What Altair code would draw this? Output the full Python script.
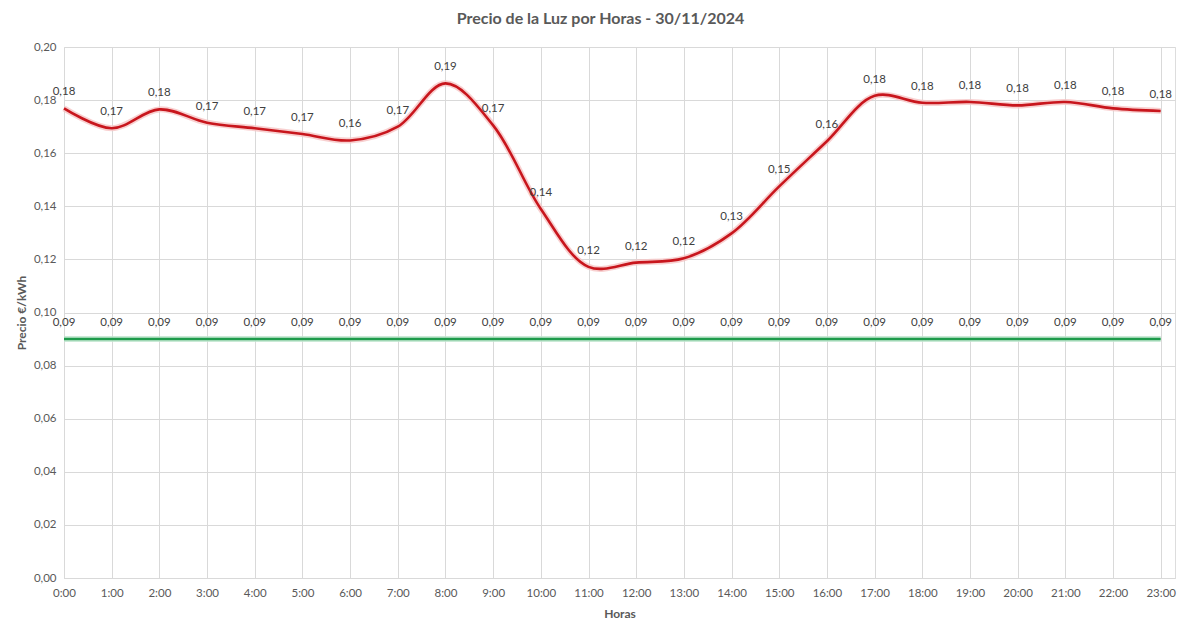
import altair as alt
import pandas as pd

horas = list(range(24))
precio = [0.1769, 0.1694, 0.1765, 0.1715, 0.1694, 0.1672, 0.1648, 0.1700,
          0.1863, 0.1705, 0.1390, 0.1172, 0.1188, 0.1204, 0.1298, 0.1475,
          0.1645, 0.1816, 0.1790, 0.1793, 0.1780, 0.1793, 0.1769, 0.1759]
referencia = [0.09, 0.09, 0.09, 0.09, 0.09, 0.09, 0.09, 0.09,
              0.09, 0.09, 0.09, 0.09, 0.09, 0.09, 0.09, 0.09,
              0.09, 0.09, 0.09, 0.09, 0.09, 0.09, 0.09, 0.09]
series = ["Precio", "Referencia"]
colores = ["#C8161D", "#1E9B4B"]
colores_halo = ["#F6C4C4", "#BDE5CC"]
ticks_y = [0.0, 0.02, 0.04, 0.06, 0.08, 0.10, 0.12, 0.14, 0.16, 0.18, 0.20]

df = pd.DataFrame(
    {"hora": horas * 2,
     "valor": precio + referencia,
     "serie": [series[0]] * 24 + [series[1]] * 24}
)

FONT = "Lato"
GREY = "#595959"

x = alt.X(
    "hora:Q",
    scale=alt.Scale(domain=[0, 23.3], nice=False, zero=False),
    axis=alt.Axis(
        values=horas,
        labelExpr="datum.value + ':00'",
        labelFlush=False,
        labelOverlap=False,
        title="Horas",
        titleFontWeight="bold",
        titleFontSize=12,
        titleColor=GREY,
        titlePadding=10,
        labelPadding=9,
        domain=True,
        domainColor="#D9D9D9",
        ticks=False,
        gridColor="#D9D9D9",
        labelColor=GREY,
        labelFontSize=11.5,
        labelFont=FONT,
        titleFont=FONT,
    ),
)
y = alt.Y(
    "valor:Q",
    scale=alt.Scale(domain=[0, 0.2], nice=False),
    axis=alt.Axis(
        values=ticks_y,
        labelExpr="replace(format(datum.value, '.2f'), '.', ',')",
        title="Precio €/kWh",
        titleFontWeight="bold",
        titleFontSize=12,
        titleColor=GREY,
        titlePadding=5,
        labelPadding=8,
        domain=False,
        ticks=False,
        gridColor="#D9D9D9",
        labelColor=GREY,
        labelFontSize=11.5,
        labelFont=FONT,
        titleFont=FONT,
    ),
)

base = alt.Chart(df)

halo = base.mark_line(interpolate="catmull-rom", strokeWidth=6, opacity=0.8).encode(
    x=x, y=y,
    color=alt.Color("serie:N", scale=alt.Scale(domain=series, range=colores_halo), legend=None),
)
linea = base.mark_line(interpolate="catmull-rom", strokeWidth=2.6).encode(
    x=x, y=y,
    color=alt.Color("serie:N", scale=alt.Scale(domain=series, range=colores), legend=None),
)
texto = base.transform_calculate(
    etiqueta="replace(format(datum.valor, '.2f'), '.', ',')"
).mark_text(dy=-16, fontSize=11.5, color="#404040", font=FONT).encode(
    x=x, y=y, text="etiqueta:N"
)

chart = (
    alt.layer(halo, linea, texto)
    .resolve_scale(color="independent")
    .properties(
        width=1111,
        height=531,
        autosize=alt.AutoSizeParams(type="none"),
        padding={"left": 64, "top": 47, "right": 25, "bottom": 55},
        title=alt.TitleParams(
            "Precio de la Luz por Horas - 30/11/2024",
            anchor="middle",
            fontSize=16,
            font=FONT,
            fontWeight="bold",
            color=GREY,
            dx=-19,
            dy=-10,
        ),
    )
    .configure_view(stroke=None)
    .configure(background="white")
)

chart.save("out.html", embed_options={"renderer": "svg", "actions": False})
